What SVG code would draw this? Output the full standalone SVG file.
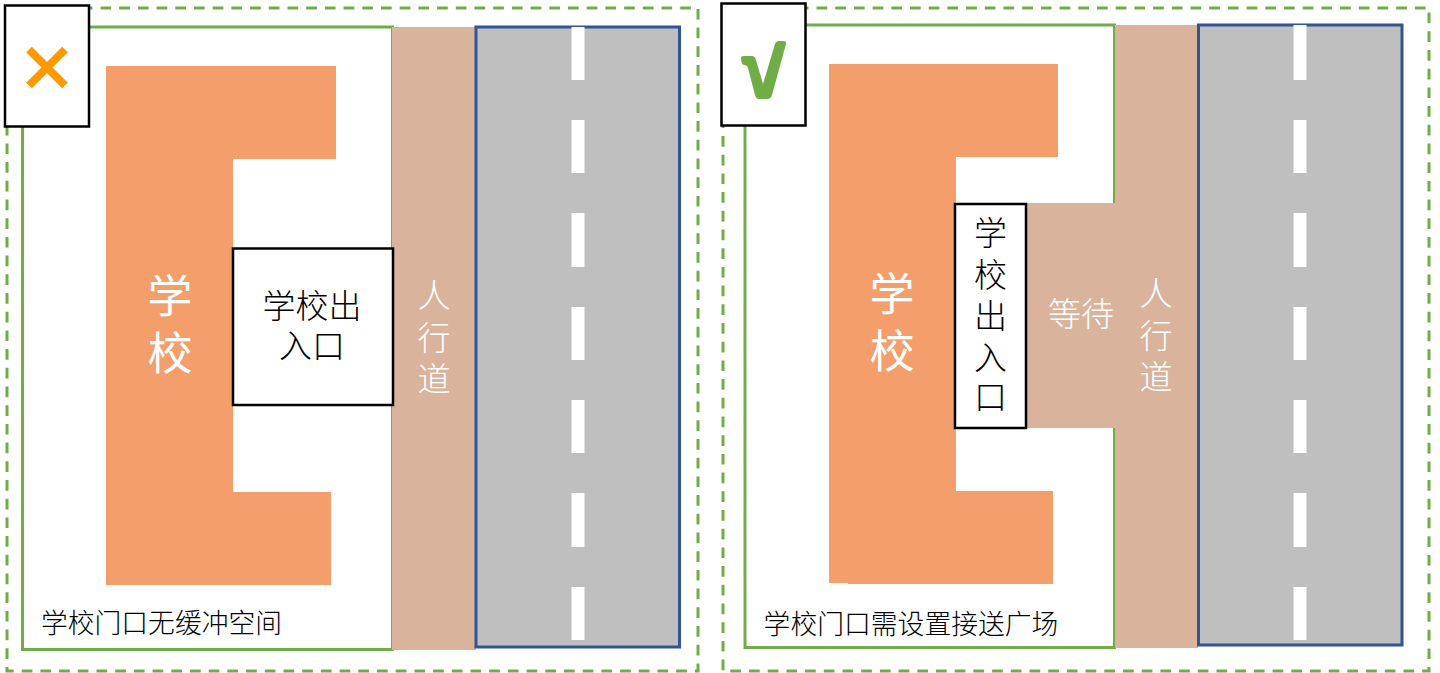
<svg xmlns="http://www.w3.org/2000/svg" width="1440" height="673" viewBox="0 0 1440 673">
<style>
text{font-family:"Noto Sans CJK SC","Noto Sans",sans-serif;text-anchor:middle;font-weight:300}
.dash{fill:none;stroke:#70ad47;stroke-width:3;stroke-dasharray:10.700 8}
.site{fill:#fff;stroke:#70ad47;stroke-width:3}
.walk{fill:#dab39c}
.road{fill:#bfbfbf;stroke:#2f5597;stroke-width:3}
.lane{fill:#fff}
.bld{fill:#f49e6b}
.box{fill:#fff;stroke:#000;stroke-width:2.500}
.w{fill:#fff}
.k{fill:#000}
</style>
<defs>
<g id="lanes">
<rect class="lane" x="0" y="0" width="13" height="53"/>
<rect class="lane" x="0" y="93" width="13" height="53"/>
<rect class="lane" x="0" y="186" width="13" height="54"/>
<rect class="lane" x="0" y="280" width="13" height="53"/>
<rect class="lane" x="0" y="373" width="13" height="53"/>
<rect class="lane" x="0" y="466" width="13" height="54"/>
<rect class="lane" x="0" y="560" width="13" height="53"/>
</g>
</defs>
<g id="left-panel">
<rect class="dash" x="7" y="8" width="691" height="663"/>
<rect class="site" x="22.500" y="27" width="370" height="622.500"/>
<rect class="walk" x="392" y="27" width="84" height="623"/>
<rect class="road" x="476" y="27" width="203.500" height="620"/>
<use href="#lanes" x="571.500" y="27"/>
<path class="bld" d="M106 66H336V159H233V492H331V585H106Z"/>
<g id="left-entrance"><rect class="box" x="233" y="248.500" width="160" height="156.500"/>
<text font-size="33"><tspan x="312" y="318">学校出</tspan><tspan x="312" y="358">入口</tspan></text></g>
<text class="w" font-size="45" style="font-weight:400"><tspan x="170" y="313">学</tspan><tspan x="170" y="370">校</tspan></text>
<text class="w" font-size="33"><tspan x="434" y="307">人</tspan><tspan x="434" y="350">行</tspan><tspan x="434" y="391">道</tspan></text>
<text x="161.500" y="633" font-size="26.800">学校门口无缓冲空间</text>
<g id="left-badge"><rect class="box" x="5" y="5.500" width="84" height="121"/>
<path d="M29 49.500L65 85.500M65 49.500L29 85.500" fill="none" stroke="#ff9900" stroke-width="8"/></g>
</g>
<g id="right-panel">
<rect class="dash" x="723" y="8" width="706" height="663"/>
<rect class="site" x="745" y="25" width="369.500" height="622.500"/>
<path class="walk" d="M1115 25H1198V648H1115V428H1026V203H1115Z"/>
<rect class="road" x="1198.500" y="25" width="203.500" height="620"/>
<rect class="lane" x="1293.500" y="25" width="13" height="3"/>
<use href="#lanes" x="1293.500" y="27"/>
<path class="bld" d="M829 64H1058V157H956V491H1053V584H848V583H829Z"/>
<g id="right-entrance"><rect class="box" x="955" y="204" width="71" height="224"/>
<text font-size="33"><tspan x="990.500" y="245">学</tspan><tspan x="990.500" y="287">校</tspan><tspan x="990.500" y="328">出</tspan><tspan x="990.500" y="370">入</tspan><tspan x="990.500" y="409">口</tspan></text></g>
<text class="w" font-size="45" style="font-weight:400"><tspan x="892" y="311">学</tspan><tspan x="892" y="368">校</tspan></text>
<text class="w" x="1081" y="326" font-size="33">等待</text>
<text class="w" font-size="33"><tspan x="1156" y="305">人</tspan><tspan x="1156" y="348">行</tspan><tspan x="1156" y="389">道</tspan></text>
<text x="911" y="634" font-size="26.800">学校门口需设置接送广场</text>
<g id="right-badge"><rect class="box" x="721.500" y="3.500" width="84" height="122"/>
<path d="M741 58Q741 56 744 56H752Q755 56 756 60L763 84L775 44Q776 41 779 41H784Q786 41 786 44L772 95Q771 99 767 99H759Q756 99 755 95L748 68Q747 65 744 65Q741 64 741 58Z" fill="#70ad47"/></g>
</g>
</svg>
